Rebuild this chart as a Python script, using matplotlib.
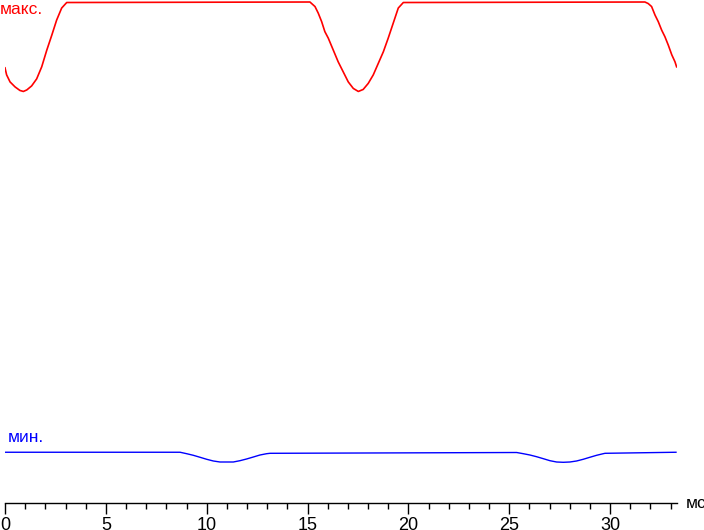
import numpy as np
import matplotlib.pyplot as plt
from matplotlib.ticker import MultipleLocator

# time, ms  /  relative level (axis line = 0, top of picture = 100)
max_t = [0.00, 0.08, 0.25, 0.50, 0.74, 0.91, 1.08, 1.32, 1.57, 1.82, 2.07, 2.32, 2.56, 2.81, 3.06,
         15.12, 15.37, 15.53, 15.70, 15.86, 16.03, 16.28, 16.52, 16.77, 17.02, 17.27, 17.52,
         17.76, 18.01, 18.26, 18.51, 18.76, 19.00, 19.25, 19.50, 19.75,
         31.73, 31.89, 32.06, 32.23, 32.39, 32.56, 32.72, 32.89, 33.06, 33.22, 33.30]
max_v = [86.5, 85.1, 83.7, 82.7, 82.0, 81.8, 82.1, 82.9, 84.3, 86.7, 90.0, 93.0, 96.0, 98.4, 99.5,
         99.6, 98.7, 97.4, 95.7, 93.7, 92.4, 90.0, 87.7, 85.7, 83.7, 82.4, 81.8,
         82.2, 83.4, 85.1, 87.4, 89.7, 92.4, 95.4, 98.4, 99.5,
         99.6, 99.3, 98.7, 97.0, 95.7, 94.0, 92.7, 91.0, 89.1, 87.7, 86.7]

min_t = [0.00, 8.68, 9.01, 9.34, 9.67, 10.00, 10.33, 10.66, 10.99, 11.32, 11.65, 11.98, 12.31,
         12.64, 12.97, 13.14, 25.37, 25.70, 26.03, 26.36, 26.69, 27.02, 27.35, 27.68, 28.01,
         28.34, 28.67, 29.00, 29.33, 29.66, 29.75, 33.27]
min_v = [10.0, 10.0, 9.71, 9.39, 9.00, 8.60, 8.26, 8.06, 8.06, 8.06, 8.32, 8.66, 9.05,
         9.45, 9.71, 9.79, 9.95, 9.71, 9.45, 9.11, 8.72, 8.32, 8.06, 8.00, 8.06,
         8.26, 8.60, 9.00, 9.39, 9.71, 9.79, 10.0]

W, H = 704, 530
fig = plt.figure(figsize=(W / 100, H / 100), dpi=100)
plt.rcParams['font.family'] = ['Liberation Sans', 'DejaVu Sans']

ax = fig.add_axes([5 / W, (H - 502.5) / H, (677 - 5) / W, 502.5 / H])
ax.plot(max_t, max_v, color='#ff0000', linewidth=1.2)
ax.plot(min_t, min_v, color='#0000ff', linewidth=1.0)

ax.set_xlim(0, 33.32)
ax.set_ylim(0, 100)
for s in ['top', 'right', 'left']:
    ax.spines[s].set_visible(False)
ax.spines['bottom'].set_linewidth(1.0)
ax.yaxis.set_visible(False)
ax.xaxis.set_major_locator(MultipleLocator(5))
ax.xaxis.set_minor_locator(MultipleLocator(1))
ax.set_xticks([0, 5, 10, 15, 20, 25, 30])
ax.tick_params(axis='x', which='major', direction='out', length=8, width=1.0, pad=2.5, labelsize=13)
ax.tick_params(axis='x', which='minor', direction='out', length=4, width=1.0)
ax.patch.set_visible(False)

fig.text(0 / W, 1 - 10 / H, 'макс.', color='#ff0000', fontsize=12.5, va='center', ha='left')
fig.text(8 / W, 1 - 438 / H, 'мин.', color='#0000ff', fontsize=12.5, va='center', ha='left')
fig.text(686 / W, 1 - 503 / H, 'мс', color='black', fontsize=12.5, va='center', ha='left')

fig.savefig('out.png', dpi=100, facecolor='white')
